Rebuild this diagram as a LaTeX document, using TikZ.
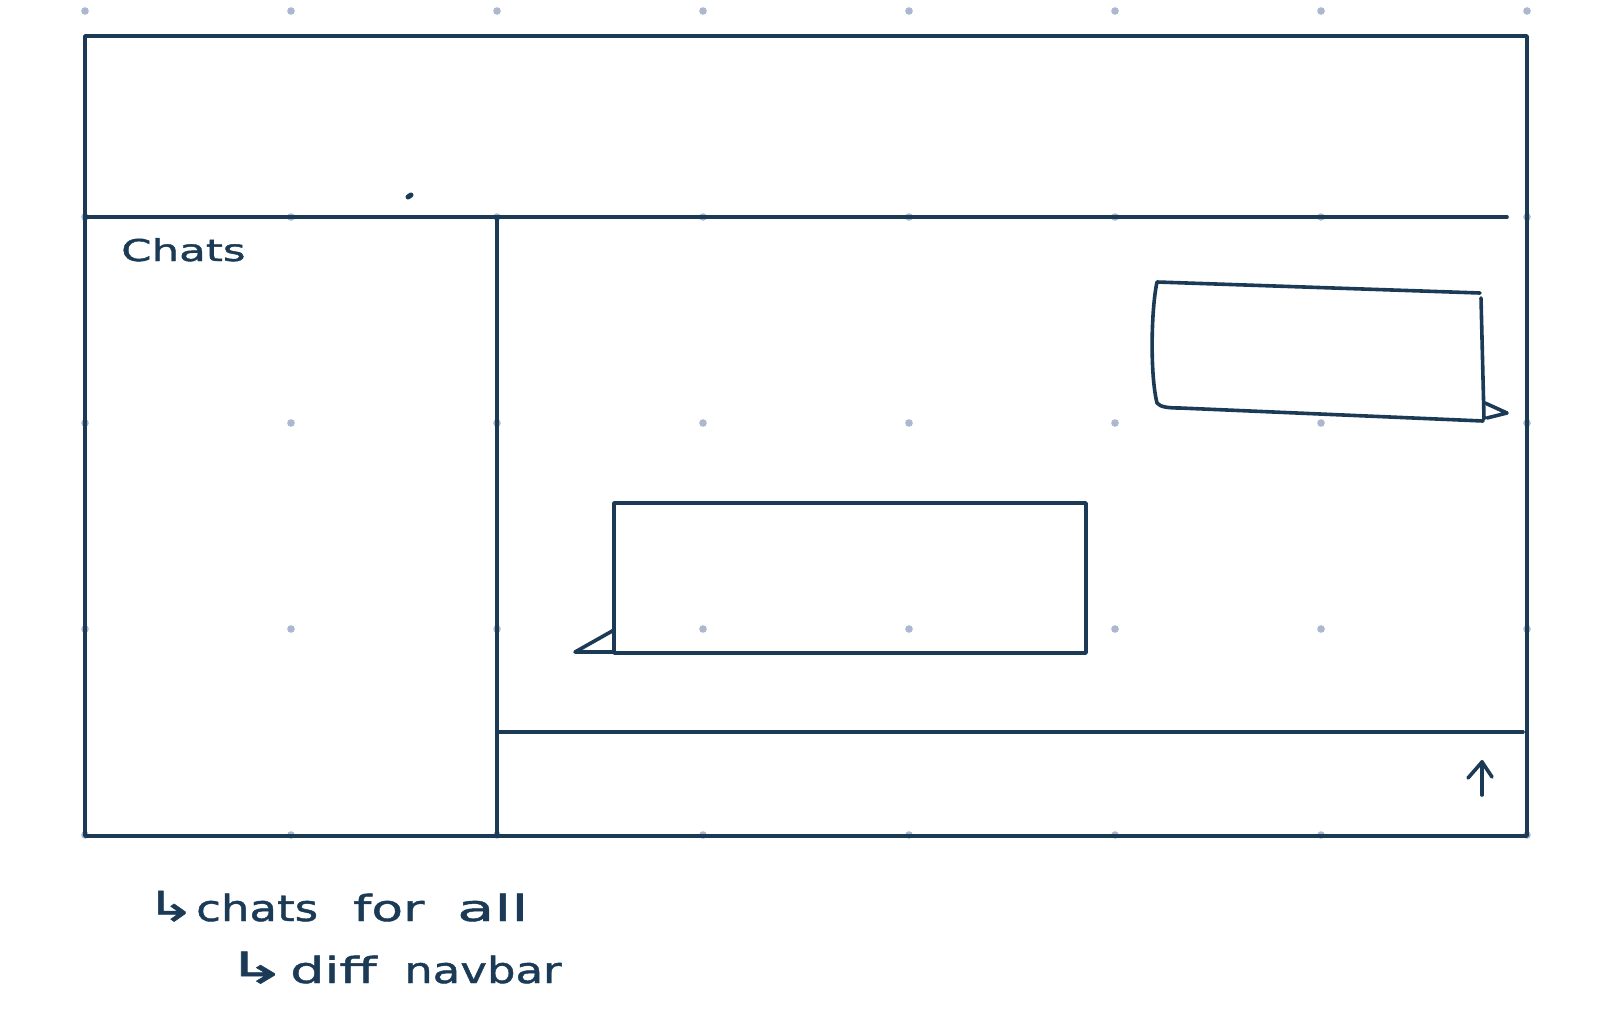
\documentclass[tikz,border=0pt]{standalone}
\usepackage{fontspec}
\setmainfont{DejaVu Sans}
\newfontfamily\handA[FakeStretch=1.25,FakeBold=1.2]{DejaVu Sans}
\newfontfamily\handC[FakeStretch=1.45,FakeBold=1.4]{DejaVu Sans}
\definecolor{ink}{RGB}{26,58,86}
\definecolor{dotc}{RGB}{172,184,208}
\tikzset{
  wire/.style={draw=ink, line width=3.6pt, line cap=round, line join=round},
  griddot/.style={fill=dotc},
  hand/.style={text=ink, inner sep=0pt, anchor=base west}
}
\newcommand{\wbox}[2]{\makebox[#1pt][l]{#2}}
\begin{document}
\begin{tikzpicture}[x=1pt,y=-1pt]
\useasboundingbox (0,0) rectangle (1600,1035);
\fill[white] (0,0) rectangle (1600,1035);
% dot grid
\foreach \i in {0,...,7}{
  \foreach \j in {0,...,4}{
    \fill[griddot] (85+206*\i, 11+206*\j) circle (3.8);
  }
}
% frame and dividers
\draw[wire] (85,36) rectangle (1527,836);
\draw[wire] (85,217) -- (1507,217);
\draw[wire] (497,217) -- (497,836);
\draw[wire] (497,732) -- (1523,732);
% stray mark
\draw[wire, line width=5pt] (408,197) -- (411,195);
% right (sent) bubble
\draw[wire] (1480,293) -- (1157,282)
  .. controls (1151,310) and (1150,375) .. (1157,403)
  .. controls (1160,407) and (1168,408) .. (1180,408) -- (1483,421);
\draw[wire] (1481,298) -- (1484,419);
\draw[wire] (1485,403) -- (1507,413) -- (1487,418);
% left (received) bubble
\draw[wire] (614,503) rectangle (1086,653);
\draw[wire] (614,630) -- (575,652) -- (614,652);
% send arrow
\coordinate (sa) at (1482,795);
\coordinate (sb) at (1482,762);
\draw[wire] (sa) -- (sb);
\draw[wire] (1468,778) -- (sb) -- (1492,777);
% texts
\node[hand] (chats) at (121,261) {\handC\fontsize{30}{34}\selectfont Chats};
\node[hand] (note1) at (146,921) {\handA\fontsize{36}{40}\selectfont
  \wbox{50}{\scalebox{1.3}[1.15]{↳}}\wbox{157}{chats}\wbox{104}{\scalebox{1.15}[1]{for}}\scalebox{1.35}[1]{all}};
\node[hand] (note2) at (226,983) {\handA\fontsize{36}{40}\selectfont
  \wbox{64}{\scalebox{1.6}[1.2]{↳}}\wbox{114}{\scalebox{1.2}[1]{diff}}navbar};
\end{tikzpicture}
\end{document}
